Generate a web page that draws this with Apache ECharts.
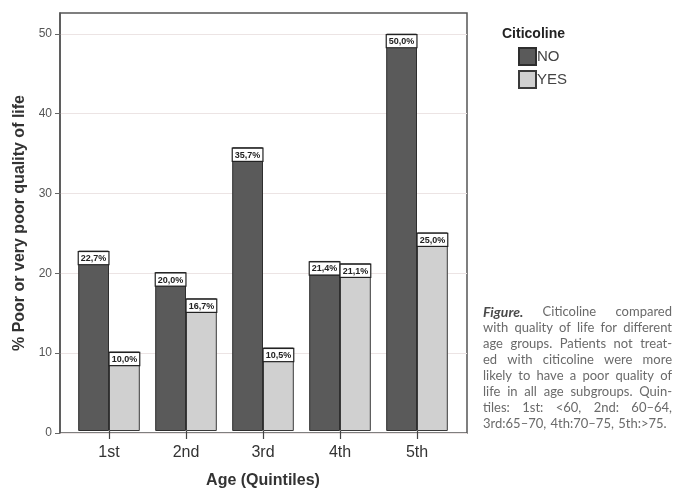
<!DOCTYPE html>
<html><head><meta charset="utf-8">
<script src="https://cdn.jsdelivr.net/npm/echarts@6/dist/echarts.min.js"></script>
<style>html,body{margin:0;padding:0;background:#fff}#c{width:677px;height:494px}</style>
</head><body><div id="c"></div>
<script>
const categories = ['1st', '2nd', '3rd', '4th', '5th'];
const noValues = [22.7, 20.0, 35.7, 21.4, 50.0];
const yesValues = [10.0, 16.7, 10.5, 21.1, 25.0];
const yTicks = [0, 10, 20, 30, 40, 50];
const legendTitle = 'Citicoline';
const seriesNames = ['NO', 'YES'];
const yTitle = '% Poor or very poor quality of life';
const xTitle = 'Age (Quintiles)';
const captionLead = 'Figure.';
const captionLines = [
  'Citicoline compared',
  'with quality of life for different',
  'age groups. Patients not treat-',
  'ed with citicoline were more',
  'likely to have a poor quality of',
  'life in all age subgroups. Quin-',
  'tiles: 1st: <60, 2nd: 60–64,',
  '3rd:65–70, 4th:70–75, 5th:>75.'
];

const Y_MAX = 52.6;
const ctx = document.createElement('canvas').getContext('2d');
function mw(t, f) { ctx.font = f; return ctx.measureText(t).width; }
const capFont = '13px Lato';
const leadFont = 'italic bold 14px Lato';
const capLeft = 483, capRight = 672, capTop = 305, capStep = 16;
const graphics = [];
captionLines.forEach((line, i) => {
  const words = line.split(' ');
  const items = words.map(wd => ({ t: wd, f: capFont, c: '#6a6a6a' }));
  if (i === 0) items.unshift({ t: captionLead, f: leadFont, c: '#4a4a4a' });
  const widths = items.map(it => mw(it.t, it.f));
  const total = widths.reduce((a, b) => a + b, 0);
  const last = i === captionLines.length - 1;
  let gap = (!last && items.length > 1) ? (capRight - capLeft - total) / (items.length - 1) : mw(' ', capFont) * 1.3;
  let x = capLeft;
  items.forEach((it, k) => {
    graphics.push({ type: 'text', x: x, y: capTop + i * capStep,
      style: { text: it.t, font: it.f, fill: it.c, textBaseline: 'middle' } });
    x += widths[k] + gap;
  });
});
graphics.push({ type: 'text', x: 502, y: 27,
  style: { text: legendTitle, font: 'bold 14px "Liberation Sans", Arial', fill: '#222', textBaseline: 'middle' } });

const fmt = v => v.toFixed(1).replace('.', ',') + '%';
const labelCfg = {
  show: true, position: 'insideTop', distance: 1.5,
  formatter: p => fmt(p.value),
  fontSize: 9, fontWeight: 'bold', color: '#222', fontFamily: '"Liberation Sans", Arial',
  backgroundColor: '#fff', borderColor: '#222', borderWidth: 1.2, padding: [2, 2, 1, 2]
};

const chart = echarts.init(document.getElementById('c'));
chart.setOption({
  backgroundColor: '#fff',
  animation: false,
  textStyle: { fontFamily: '"Liberation Sans", Arial' },
  grid: [
    { left: 70.5, top: 13, width: 385, height: 420 },
    { left: 60, top: 13, width: 407, height: 420, show: true, borderColor: '#555', borderWidth: 1.5, backgroundColor: 'transparent', z: 0 }
  ],
  legend: {
    data: seriesNames, orient: 'vertical', left: 513, top: 42,
    itemWidth: 17, itemHeight: 17, itemGap: 4,
    textStyle: { fontSize: 15, color: '#444', padding: [0, 0, 0, -4] },
    icon: 'rect'
  },
  xAxis: [
    { type: 'category', gridIndex: 0, data: categories,
      axisLine: { show: false },
      axisTick: { show: true, alignWithLabel: true, length: 8, lineStyle: { color: '#444', width: 1.2 } },
      axisLabel: { fontSize: 16, color: '#333', margin: 14 },
      name: xTitle, nameLocation: 'middle', nameGap: 42,
      nameTextStyle: { fontSize: 16, fontWeight: 'bold', color: '#333' } },
    { type: 'value', gridIndex: 1, show: false, min: 0, max: 1 }
  ],
  yAxis: [
    { type: 'value', gridIndex: 0, min: 0, max: Y_MAX, show: false },
    { type: 'value', gridIndex: 1, min: 0, max: Y_MAX, interval: 10,
      axisLine: { show: true, lineStyle: { color: '#555', width: 1.5 } },
      axisTick: { show: true, length: 5, customValues: yTicks, lineStyle: { color: '#666' } },
      axisLabel: { fontSize: 12, color: '#555', margin: 8, customValues: yTicks },
      splitLine: { show: true, lineStyle: { color: '#ece4e4', width: 1 } },
      name: yTitle, nameLocation: 'middle', nameGap: 31, nameRotate: 90,
      nameTextStyle: { fontSize: 16, fontWeight: 'bold', color: '#333' } }
  ],
  series: [
    { name: seriesNames[0], type: 'bar', xAxisIndex: 0, yAxisIndex: 0, data: noValues,
      barGap: '0%', barCategoryGap: '20%',
      itemStyle: { color: '#5a5a5a', borderColor: '#2e2e2e', borderWidth: 1 },
      label: labelCfg, z: 3 },
    { name: seriesNames[1], type: 'bar', xAxisIndex: 0, yAxisIndex: 0, data: yesValues,
      barGap: '0%', barCategoryGap: '20%',
      itemStyle: { color: '#d0d0d0', borderColor: '#3a3a3a', borderWidth: 1 },
      label: labelCfg, z: 3 }
  ],
  graphic: graphics
});
</script></body></html>
